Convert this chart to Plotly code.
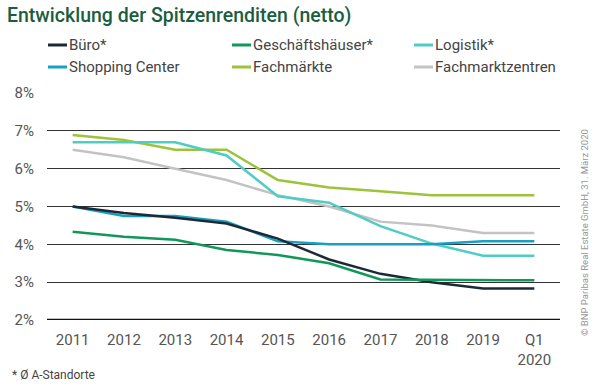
import plotly.graph_objects as go

categories = ["2011", "2012", "2013", "2014", "2015", "2016", "2017", "2018", "2019", "Q1<br>2020"]
buero = [5.0, 4.83, 4.7, 4.55, 4.15, 3.6, 3.22, 3.0, 2.83, 2.83]
geschaeftshaeuser = [4.33, 4.2, 4.12, 3.85, 3.72, 3.5, 3.07, 3.06, 3.05, 3.05]
logistik = [6.7, 6.7, 6.7, 6.35, 5.27, 5.1, 4.48, 4.02, 3.7, 3.7]
shopping_center = [5.0, 4.75, 4.75, 4.6, 4.08, 4.0, 4.0, 4.0, 4.08, 4.08]
fachmaerkte = [6.89, 6.76, 6.5, 6.5, 5.7, 5.5, 5.4, 5.3, 5.3, 5.3]
fachmarktzentren = [6.5, 6.3, 6.0, 5.7, 5.3, 5.0, 4.6, 4.5, 4.3, 4.3]
y_ticks = [2, 3, 4, 5, 6, 7, 8]
y_ticklabels = ["2%", "3%", "4%", "5%", "6%", "7%", "8%"]

series = [
    ("Büro*", buero, "#1d2a36"),
    ("Geschäftshäuser*", geschaeftshaeuser, "#12975a"),
    ("Logistik*", logistik, "#4ecdc4"),
    ("Shopping Center", shopping_center, "#179fc4"),
    ("Fachmärkte", fachmaerkte, "#9cc43a"),
    ("Fachmarktzentren", fachmarktzentren, "#c3c3c3"),
]

FONT = "Roboto, Arial, sans-serif"

fig = go.Figure()
order = [5, 4, 2, 3, 0, 1]
for i in order:
    name, vals, col = series[i]
    fig.add_trace(go.Scatter(x=categories, y=vals, mode="lines", name=name,
                             line=dict(color=col, width=2.5), showlegend=False,
                             hoverinfo="skip"))

leg_rows = [45, 67]
for idx, (name, vals, col) in enumerate(series):
    r = idx // 3
    c = idx % 3
    x0 = 48 + [0, 184, 366][c]
    y = leg_rows[r]
    fig.add_shape(type="line", xref="paper", yref="paper",
                  x0=(x0 - 47) / 513, x1=(x0 + 19 - 47) / 513,
                  y0=(320 - y) / 227, y1=(320 - y) / 227,
                  line=dict(color=col, width=3))
    fig.add_annotation(text=name, xref="paper", yref="paper",
                       x=(x0 + 19 - 47) / 513, y=(320 - y) / 227,
                       xanchor="left", yanchor="middle", showarrow=False,
                       font=dict(family=FONT, size=15, color="#444444"))

fig.add_annotation(text="Entwicklung der Spitzenrenditen (netto)", xref="paper", yref="paper",
                   x=(5 - 47) / 513, y=(320 - 15) / 227, xanchor="left", yanchor="middle",
                   showarrow=False, font=dict(family=FONT, size=19.5, color="#1b5e3f", weight=500))
fig.add_annotation(text="* Ø A-Standorte", xref="paper", yref="paper",
                   x=(10 - 47) / 513, y=(320 - 375) / 227, xanchor="left", yanchor="middle",
                   showarrow=False, font=dict(family=FONT, size=12, color="#444444"))
fig.add_annotation(text="© BNP Paribas Real Estate GmbH, 31. März 2020", xref="paper", yref="paper",
                   x=(584 - 47) / 513, y=(320 - 233) / 227, xanchor="center", yanchor="middle",
                   textangle=-90, showarrow=False,
                   font=dict(family=FONT, size=9.5, color="#999999"))
fig.add_shape(type="line", xref="paper", yref="y", x0=0, x1=1, y0=2, y1=2,
              line=dict(color="#111111", width=2.5))

fig.update_layout(
    width=600, height=386,
    margin=dict(l=47, r=40, t=93, b=66, autoexpand=False),
    paper_bgcolor="white", plot_bgcolor="white",
    font=dict(family=FONT, color="#555555"),
    xaxis=dict(type="category", range=[-0.5, 9.5], showgrid=False, zeroline=False,
               showline=False, ticks="", automargin=False, ticklabelstandoff=9,
               tickfont=dict(size=15, color="#555555")),
    yaxis=dict(range=[2, 8], tickvals=y_ticks, ticktext=y_ticklabels,
               showgrid=True, gridcolor="#333333", gridwidth=1, zeroline=False,
               showline=False, ticks="", ticklabelstandoff=12, automargin=False,
               tickfont=dict(size=15, color="#555555")),
)

fig.write_html("out.html", config={"displayModeBar": False},
               post_script="document.body.style.margin='0';document.body.style.overflow='hidden';")
